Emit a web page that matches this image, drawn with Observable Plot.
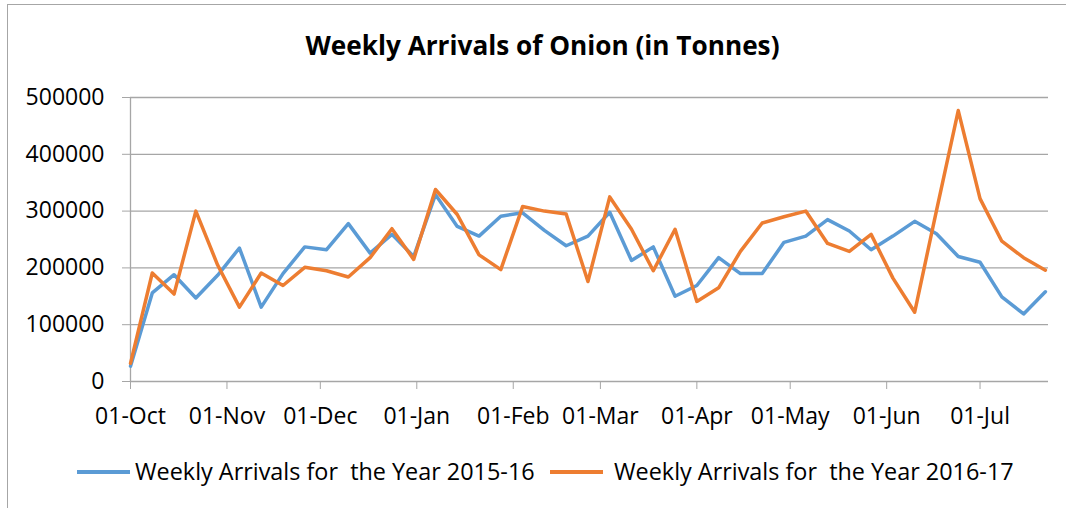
<!DOCTYPE html>
<html>
<head>
<meta charset="utf-8">
<script src="https://cdn.jsdelivr.net/npm/d3@7"></script>
<script src="https://cdn.jsdelivr.net/npm/@observablehq/plot@0.6"></script>
<style>
  html, body { margin: 0; padding: 0; background: #fff; }
  #wrap { position: relative; width: 1066px; height: 508px; overflow: hidden; font-family: "Open Sans", sans-serif; color: #000; }
  #frame { position: absolute; left: 7px; top: 4px; width: 1080px; height: 520px; border: 1.3px solid #a6a6a6; box-sizing: border-box; }
  #title { position: absolute; left: 0; width: 1085px; top: 30px; line-height: 30px; text-align: center; font-weight: bold; font-size: 26.2px; white-space: pre; }
  #chart { position: absolute; left: 0; top: 70px; }
  .lg-sw { position: absolute; height: 3.6px; top: 470.3px; width: 53px; }
  .lg-tx { position: absolute; top: 456px; line-height: 30px; font-size: 23.4px; white-space: pre; }
</style>
</head>
<body>
<div id="wrap">
  <div id="frame"></div>
  <div id="title"></div>
  <div id="chart"></div>
</div>
<script>
const title = "Weekly Arrivals of Onion (in Tonnes)";
const seriesNames = ["Weekly Arrivals for  the Year 2015-16", "Weekly Arrivals for  the Year 2016-17"];
const seriesColors = ["#5B9BD5", "#ED7D31"];

const weeks = [
  "2016-10-01","2016-10-08","2016-10-15","2016-10-22","2016-10-29",
  "2016-11-05","2016-11-12","2016-11-19","2016-11-26",
  "2016-12-03","2016-12-10","2016-12-17","2016-12-24","2016-12-31",
  "2017-01-07","2017-01-14","2017-01-21","2017-01-28",
  "2017-02-04","2017-02-11","2017-02-18","2017-02-25",
  "2017-03-04","2017-03-11","2017-03-18","2017-03-25",
  "2017-04-01","2017-04-08","2017-04-15","2017-04-22","2017-04-29",
  "2017-05-06","2017-05-13","2017-05-20","2017-05-27",
  "2017-06-03","2017-06-10","2017-06-17","2017-06-24",
  "2017-07-01","2017-07-08","2017-07-15","2017-07-22"
];

const arrivals2015_16 = [
  27000,156000,188000,147000,187000,235000,131000,190000,237000,232000,
  278000,226000,259000,220000,329000,273000,256000,291000,297000,266000,
  239000,256000,298000,213000,237000,150000,169000,218000,190000,190000,
  245000,256000,285000,265000,232000,256000,282000,260000,220000,210000,
  149000,119000,158000
];

const arrivals2016_17 = [
  32000,191000,154000,300000,205000,131000,191000,169000,201000,195000,
  184000,218000,269000,215000,338000,294000,223000,197000,308000,300000,
  295000,176000,325000,268000,195000,268000,141000,165000,229000,279000,
  290000,300000,243000,229000,259000,182000,122000,301000,477000,322000,
  247000,218000,196000
];

const yTicks = [0, 100000, 200000, 300000, 400000, 500000];
const xDomain = ["2016-10-01", "2017-07-23"];

const parse = d3.utcParse("%Y-%m-%d");
const data = [];
weeks.forEach((w, i) => {
  data.push({date: parse(w), value: arrivals2015_16[i], series: seriesNames[0]});
});
weeks.forEach((w, i) => {
  data.push({date: parse(w), value: arrivals2016_17[i], series: seriesNames[1]});
});

const x0 = parse(xDomain[0]), x1 = parse(xDomain[1]);
const monthTicks = d3.utcMonth.range(x0, x1);

const chart = Plot.plot({
  width: 1066,
  height: 370,
  marginTop: 27,
  marginBottom: 59,
  marginLeft: 130,
  marginRight: 18,
  style: {fontFamily: "Open Sans, sans-serif", fontSize: "23px", color: "#000", background: "transparent", overflow: "visible"},
  x: {type: "utc", domain: [x0, x1]},
  y: {domain: [0, 500000]},
  color: {domain: seriesNames, range: seriesColors},
  marks: [
    Plot.gridY(yTicks, {stroke: "#a6a6a6", strokeOpacity: 1, strokeWidth: 1.3}),
    Plot.ruleX([x0], {stroke: "#a6a6a6", strokeWidth: 1.3}),
    Plot.axisY({ticks: yTicks, tickSize: 8, tickPadding: 18, stroke: "#a6a6a6", fill: "#000", tickFormat: d => String(d), label: null, fontSize: 23}),
    Plot.axisX({ticks: monthTicks, tickSize: 8, tickPadding: 18, stroke: "#a6a6a6", fill: "#000", tickFormat: d3.utcFormat("%d-%b"), label: null, fontSize: 23}),
    Plot.lineY(data, {x: "date", y: "value", stroke: "series", z: "series", strokeWidth: 3.5, strokeLinejoin: "round", strokeLinecap: "round"})
  ]
});
document.getElementById("chart").appendChild(chart);
document.getElementById("title").textContent = title;

const wrap = document.getElementById("wrap");
const legendPos = [{sw: 77, tx: 135}, {sw: 550, tx: 614}];
seriesNames.forEach((name, i) => {
  const sw = document.createElement("div");
  sw.className = "lg-sw";
  sw.style.left = legendPos[i].sw + "px";
  sw.style.background = seriesColors[i];
  wrap.appendChild(sw);
  const tx = document.createElement("div");
  tx.className = "lg-tx";
  tx.style.left = legendPos[i].tx + "px";
  tx.textContent = name;
  wrap.appendChild(tx);
});
</script>
</body>
</html>
